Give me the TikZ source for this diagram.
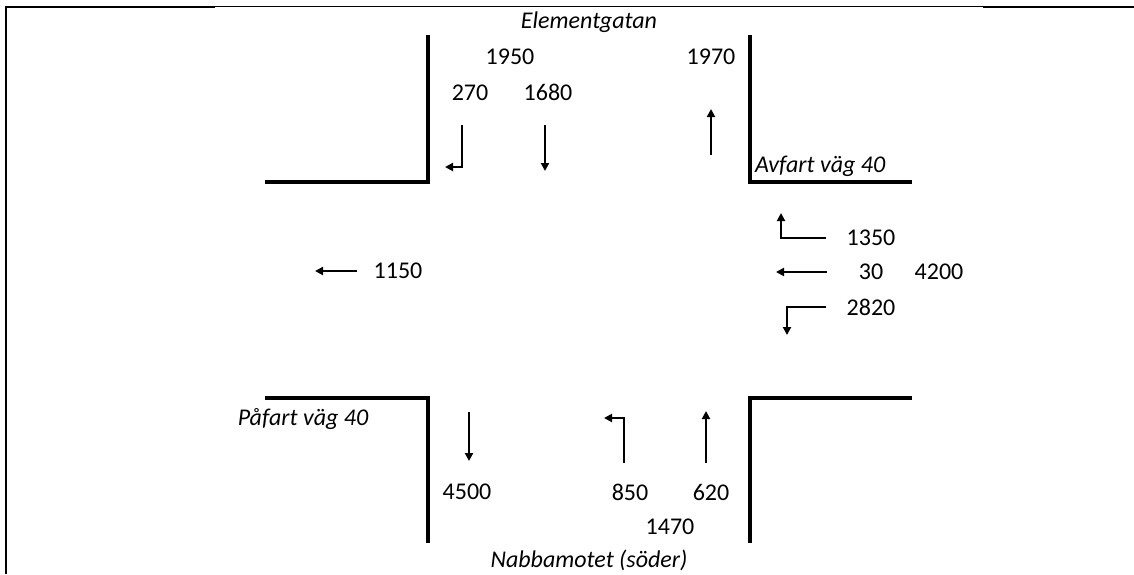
\documentclass[tikz,border=0pt]{standalone}
\usepackage{fontspec}
\setmainfont{Carlito}
\usetikzlibrary{arrows.meta}
\tikzset{
	road/.style={line width=4pt},
	flow/.style={line width=2.4pt,-{Triangle[length=8pt,width=8pt]}},
	num/.style={font=\fontsize{24}{28}\selectfont,inner sep=0pt},
	street/.style={font=\fontsize{24}{28}\selectfont\itshape,inner sep=0pt,anchor=base}
}

\begin{document}
\begin{tikzpicture}[x=1pt,y=-1pt]
		\useasboundingbox (0,0) rectangle (1134,574);
		%%%%% START %%%%%
		% cell border
		\draw[line width=2pt] (5,6.7) -- (215,6.7);
		\draw[line width=1pt] (215,6.7) -- (983,6.7);
		\draw[line width=2pt] (983,6.7) -- (1134,6.7);
		\draw[line width=2pt] (6,5.7) -- (6,574);
		
		% kerbs of the crossing
		\draw[road] (428,35) -- (428,182) -- (265,182);
		\draw[road] (750,35) -- (750,182) -- (912,182);
		\draw[road] (265,398) -- (428,398) -- (428,543);
		\draw[road] (750,543) -- (750,398) -- (912,398);
		
		% street names
		\node[street] (norr) at (589,28) {Elementgatan};
		\node[street] (soder) at (589,567) {Nabbamotet (söder)};
		\node[street,anchor=base west] (avfart) at (755,172) {Avfart väg 40};
		\node[street] (pafart) at (303,425) {Påfart väg 40};
		
		% from the north
		\node[num] (n1950) at (510,57) {1950};
		\node[num] (n1970) at (711,57) {1970};
		\node[num] (n270) at (470,92.5) {270};
		\node[num] (n1680) at (548,92.5) {1680};
		\draw[flow] (462,125) -- (462,167) -- (445,167);
		\draw[flow] (545,125) -- (545,171);
		\draw[flow] (711,155) -- (711,109);
		
		% from the east
		\node[num] (o1350) at (871,238) {1350};
		\node[num] (o30) at (871,272) {30};
		\node[num] (o4200) at (939,272) {4200};
		\node[num] (o2820) at (871,307) {2820};
		\draw[flow] (826,238) -- (781,238) -- (781,213);
		\draw[flow] (827,272) -- (776,272);
		\draw[flow] (826,307) -- (787,307) -- (787,335);
		
		% to the west
		\node[num] (v1150) at (398,271) {1150};
		\draw[flow] (357,271) -- (315,271);
		
		% from the south
		\draw[flow] (469,412) -- (469,461);
		\node[num] (s4500) at (467,492) {4500};
		\draw[flow] (624,463) -- (624,418) -- (604,418);
		\draw[flow] (706,463) -- (706,411);
		\node[num] (s850) at (630,492) {850};
		\node[num] (s620) at (711,492) {620};
		\node[num] (s1470) at (670,527) {1470};
		%%%%% END %%%%%
\end{tikzpicture}
\end{document}
